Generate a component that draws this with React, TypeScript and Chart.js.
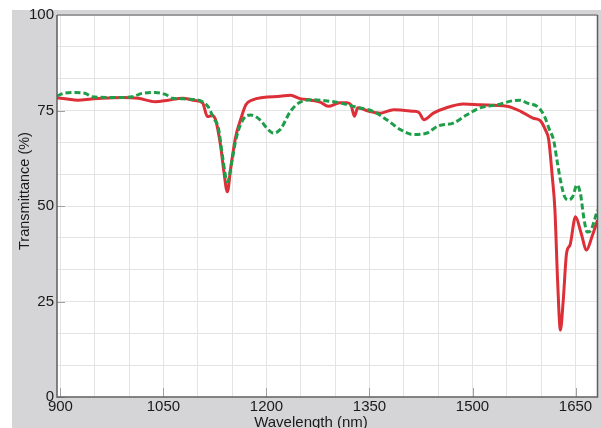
import React, { useEffect, useRef } from "react";
import { Chart, registerables } from "chart.js";

Chart.register(...registerables);

// Wavelength (nm) / transmittance (%) — red solid series
const redWavelengths = [
  895, 910, 925, 945, 960, 990, 1013, 1038, 1057, 1078, 1096, 1107, 1114, 1121, 1126,
  1133, 1138, 1143, 1148, 1155, 1163, 1170, 1180, 1195, 1220, 1235, 1249, 1265, 1278,
  1290, 1307, 1317, 1323, 1328, 1333, 1347, 1366, 1385, 1414, 1422, 1429, 1443, 1463,
  1487, 1511, 1550, 1570, 1588, 1599, 1606, 1611, 1616, 1620, 1624, 1628, 1632, 1637,
  1642, 1650, 1658, 1666, 1674, 1682,
];
const redValues = [
  78.3, 78.0, 77.7, 78.0, 78.2, 78.4, 78.2, 77.3, 77.7, 78.2, 77.6, 77.0, 73.4, 73.7, 72.5,
  66.0, 59.0, 53.7, 60.0, 68.0, 73.0, 76.5, 77.8, 78.4, 78.7, 79.0, 78.1, 77.7, 77.2,
  76.1, 77.0, 77.0, 76.5, 73.5, 75.7, 74.9, 74.3, 75.2, 74.8, 74.5, 72.6, 74.3, 75.8,
  76.7, 76.5, 76.1, 74.8, 73.0, 72.3, 70.0, 67.3, 58.0, 49.0, 30.0, 17.5, 25.0, 37.7,
  39.8, 47.2, 43.0, 38.5, 42.0, 46.3,
];

// Green dashed series
const greenWavelengths = [
  895, 905, 922, 936, 946, 980, 1005, 1019, 1038, 1053, 1063, 1086, 1107, 1115, 1123,
  1130, 1136, 1143, 1150, 1155, 1162, 1170, 1177, 1191, 1200, 1210, 1220, 1235, 1249,
  1268, 1283, 1307, 1332, 1355, 1375, 1395, 1414, 1434, 1449, 1472, 1492, 1511, 1536,
  1560, 1570, 1579, 1596, 1605, 1612, 1618, 1623, 1628, 1634, 1640, 1646, 1652, 1657,
  1662, 1667, 1672, 1677, 1682,
];
const greenValues = [
  78.8, 79.5, 79.7, 79.5, 78.6, 78.4, 78.6, 79.5, 79.7, 79.2, 78.2, 78.0, 77.3, 76.0, 73.0,
  70.4, 63.0, 56.3, 62.0, 67.0, 71.2, 73.5, 73.8, 72.5, 70.5, 69.1, 70.0, 74.8, 77.2,
  77.8, 77.6, 77.0, 75.8, 74.8, 72.6, 70.0, 68.7, 69.1, 70.9, 71.7, 73.9, 75.7, 76.5,
  77.6, 77.7, 77.0, 75.8, 73.4, 70.0, 67.3, 62.0, 56.8, 52.5, 51.6, 52.5, 55.5, 53.4,
  47.0, 43.2, 43.5, 46.0, 49.0,
];

// Axes
const xMin = 895;
const xMax = 1682;
const xGridValues = [900, 950, 1000, 1050, 1100, 1150, 1200, 1250, 1300, 1350, 1400, 1450, 1500, 1550, 1600, 1650];
const xTickLabels = [900, 1050, 1200, 1350, 1500, 1650];
const yGridValues = [0, 25 / 3, 50 / 3, 25, 100 / 3, 125 / 3, 50, 175 / 3, 200 / 3, 75, 250 / 3, 275 / 3, 100];
const yTickLabels = [0, 25, 50, 75, 100];

const xTitle = "Wavelength (nm)";
const yTitle = "Transmittance (%)";

const FONT = "'Liberation Sans', Arial, Helvetica, sans-serif";

const isLabel = (list: number[], v: number) => list.some((t) => Math.abs(t - v) < 1e-6);

export default function App() {
  const ref = useRef<HTMLCanvasElement | null>(null);

  useEffect(() => {
    if (!ref.current) return;

    const decor = {
      id: "decor",
      beforeDraw(chart: any) {
        const { ctx, chartArea: a, width, height } = chart;
        ctx.save();
        ctx.fillStyle = "#ffffff";
        ctx.fillRect(0, 0, width, height);
        ctx.fillStyle = "#d5d5d8";
        ctx.fillRect(12, 10, width - 12, height - 10);
        ctx.fillStyle = "#ffffff";
        ctx.fillRect(a.left, a.top, a.right - a.left, a.bottom - a.top);
        ctx.restore();
      },
      afterDraw(chart: any) {
        const { ctx, chartArea: a } = chart;
        const xs = chart.scales.x;
        const ys = chart.scales.y;
        ctx.save();
        // inner tick marks
        ctx.strokeStyle = "#a0a0a0";
        ctx.lineWidth = 1;
        ctx.beginPath();
        xTickLabels.forEach((v) => {
          const px = Math.round(xs.getPixelForValue(v)) + 0.5;
          ctx.moveTo(px, a.bottom);
          ctx.lineTo(px, a.bottom - 9);
        });
        yTickLabels.forEach((v) => {
          const py = Math.round(ys.getPixelForValue(v)) + 0.5;
          ctx.moveTo(a.left, py);
          ctx.lineTo(a.left + 8, py);
        });
        ctx.stroke();
        // frame
        ctx.strokeStyle = "#9c9c9c";
        ctx.lineWidth = 2;
        ctx.beginPath();
        ctx.moveTo(a.left, a.top);
        ctx.lineTo(a.right, a.top);
        ctx.stroke();
        ctx.strokeStyle = "#5e5e5e";
        ctx.lineWidth = 1.5;
        ctx.beginPath();
        ctx.moveTo(a.left, a.top);
        ctx.lineTo(a.left, a.bottom);
        ctx.lineTo(a.right, a.bottom);
        ctx.lineTo(a.right, a.top);
        ctx.stroke();
        // axis titles
        ctx.fillStyle = "#1a1a1a";
        ctx.font = `15px ${FONT}`;
        ctx.textAlign = "center";
        ctx.textBaseline = "alphabetic";
        ctx.fillText(xTitle, 311, 426.5);
        ctx.translate(29, 191);
        ctx.rotate(-Math.PI / 2);
        ctx.font = `14.5px ${FONT}`;
        ctx.fillText(yTitle, 0, 0);
        ctx.restore();
      },
    };

    const chart = new Chart(ref.current, {
      type: "line",
      data: {
        datasets: [
          {
            label: "green",
            data: greenWavelengths.map((x, i) => ({ x, y: greenValues[i] })),
            borderColor: "#1f9e4a",
            borderWidth: 3,
            borderDash: [6, 3],
            pointRadius: 0,
            fill: false,
            cubicInterpolationMode: "monotone",
          },
          {
            label: "red",
            data: redWavelengths.map((x, i) => ({ x, y: redValues[i] })),
            borderColor: "#dc2f37",
            borderWidth: 3,
            pointRadius: 0,
            fill: false,
            cubicInterpolationMode: "monotone",
          },
        ],
      },
      options: {
        animation: false,
        responsive: false,
        maintainAspectRatio: false,
        layout: { padding: { top: 15, right: 3.5, left: 0, bottom: 0 } },
        plugins: { legend: { display: false }, tooltip: { enabled: false } },
        scales: {
          x: {
            type: "linear",
            min: xMin,
            max: xMax,
            afterFit(scale: any) {
              scale.height = 31;
            },
            afterBuildTicks(scale: any) {
              scale.ticks = xGridValues.map((v) => ({ value: v }));
            },
            ticks: {
              autoSkip: false,
              maxRotation: 0,
              padding: 1,
              color: "#1a1a1a",
              font: { family: FONT, size: 15 },
              callback: (v: any) => (isLabel(xTickLabels, Number(v)) ? String(v) : ""),
            },
            grid: { color: "#e4e4e4", lineWidth: 1, drawTicks: false },
            border: { display: false },
          },
          y: {
            type: "linear",
            min: 0,
            max: 100,
            afterFit(scale: any) {
              scale.width = 57;
            },
            afterBuildTicks(scale: any) {
              scale.ticks = yGridValues.map((v) => ({ value: v }));
            },
            ticks: {
              autoSkip: false,
              padding: 3,
              color: "#1a1a1a",
              font: { family: FONT, size: 15 },
              callback: (v: any) => {
                const n = Number(v);
                const hit = yTickLabels.find((t) => Math.abs(t - n) < 1e-6);
                return hit === undefined ? "" : String(hit);
              },
            },
            grid: { color: "#e4e4e4", lineWidth: 1, drawTicks: false },
            border: { display: false },
          },
        },
      },
      plugins: [decor],
    });

    return () => chart.destroy();
  }, []);

  return (
    <div style={{ position: "fixed", left: 0, top: 0, width: 601, height: 428, background: "#fff" }}>
      <canvas ref={ref} width={601} height={428} style={{ width: 601, height: 428, display: "block" }} />
    </div>
  );
}
